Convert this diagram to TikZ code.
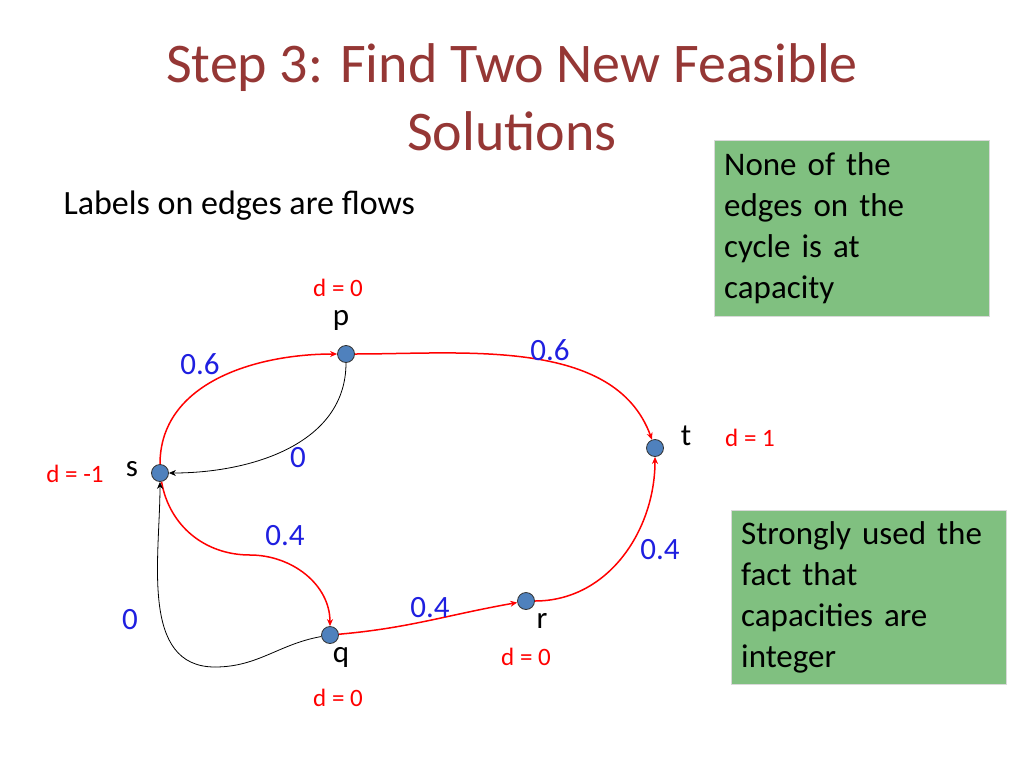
\documentclass[tikz,border=0pt]{standalone}
\usepackage{fontspec}
\setmainfont{Carlito}
\usetikzlibrary{arrows.meta}
\definecolor{titlered}{HTML}{953735}
\definecolor{boxgreen}{HTML}{80C080}
\definecolor{flowblue}{HTML}{1F1FE0}
\definecolor{nodeblue}{HTML}{4F81BD}
\begin{document}
\begin{tikzpicture}[x=1pt,y=-1pt,
  vert/.style={circle,draw=black!80,fill=nodeblue,line width=0.8pt,minimum size=17pt,inner sep=0pt},
  redarc/.style={red,line width=1.5pt,-{Stealth[length=7pt,width=6pt]}},
  blkarc/.style={black,line width=0.8pt,-{Stealth[length=7pt,width=6pt]}},
  flow/.style={text=flowblue,font=\fontsize{31}{36}\selectfont},
  dlab/.style={text=red,font=\fontsize{25}{30}\selectfont},
  vlab/.style={font=\fontsize{31}{36}\selectfont},
  gbox/.style={fill=boxgreen,draw=black!15,anchor=north west,align=left,text width=255pt,inner sep=10pt,font=\fontsize{33}{41}\selectfont}]
\useasboundingbox (0,0) rectangle (1024,768);
\node[text=titlered,font=\fontsize{56}{68}\selectfont,align=center] (title) at (512,97) {Step 3: Find Two New Feasible\\Solutions};
\node[anchor=west,font=\fontsize{34}{40}\selectfont] (lab) at (60,206) {Labels on edges are flows};
\node[gbox,minimum width=273pt,minimum height=176pt] (b1) at (714,140) {\raggedright None of the\\edges on the\\cycle is at\\capacity};
\node[gbox,minimum width=273pt,minimum height=174pt] (b2) at (731,510) {\raggedright Strongly used the\\fact that\\capacities are\\integer};
\node[vert] (p) at (346,354) {};
\node[vert] (t) at (655,448) {};
\node[vert] (s) at (160,473) {};
\node[vert] (q) at (330,635) {};
\node[vert] (r) at (526,601) {};
\coordinate (m1) at (250,555);
\coordinate (m2) at (215,667);
\draw[redarc] (s) to[out=90,in=180] (p);
\draw[redarc] (p) to[out=0,in=110,looseness=0.9] (t);
\draw[blkarc] (p) to[out=270,in=0] (s);
\draw[red,line width=1.5pt] (s) to[out=-80,in=180] (m1);
\draw[redarc] (m1) to[out=0,in=90] (q);
\draw[redarc] (q) to[out=5,in=190] (r);
\draw[redarc] (r) to[out=0,in=270] (t);
\draw[black,line width=0.8pt] (q) to[out=190,in=0] (m2);
\draw[blkarc] (m2) to[out=180,in=270] (s);
\node[flow] (f1) at (200,364) {0.6};
\node[flow] (f2) at (550,350) {0.6};
\node[flow] (f3) at (298,458) {0};
\node[flow] (f4) at (285,536) {0.4};
\node[flow] (f5) at (660,550) {0.4};
\node[flow] (f6) at (430,608) {0.4};
\node[flow] (f7) at (130,620) {0};
\node[vlab] (lp) at (341,320) {p};
\node[vlab] (lt) at (686,436) {t};
\node[vlab] (ls) at (132,469) {s};
\node[vlab] (lq) at (341,657) {q};
\node[vlab] (lr) at (542,621) {r};
\node[dlab] (dp) at (338,288) {d = 0};
\node[dlab] (dt) at (750,438) {d = 1};
\node[dlab] (ds) at (75,474) {d = -1};
\node[dlab] (dr) at (526,657) {d = 0};
\node[dlab] (dq) at (338,698) {d = 0};
\end{tikzpicture}
\end{document}
